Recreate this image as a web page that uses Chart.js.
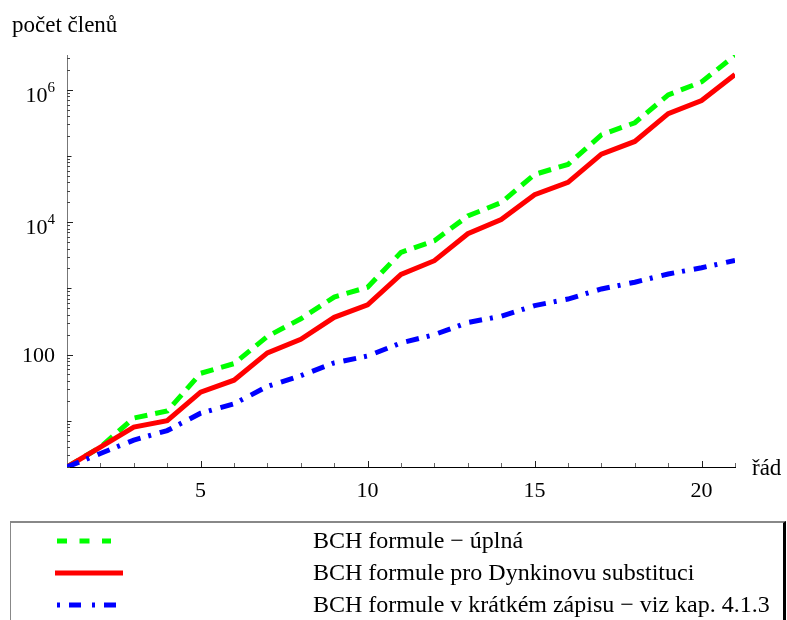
<!DOCTYPE html>
<html>
<head>
<meta charset="utf-8">
<script src="https://cdn.jsdelivr.net/npm/chart.js@4.4.1/dist/chart.umd.min.js"></script>
<style>
    body { margin: 0; background: #fff; }
    #wrap { position: relative; width: 787px; height: 620px; overflow: hidden; font-family: "Liberation Serif", "Times New Roman", serif; color: #000; }
    #chart { position: absolute; left: 0; top: 0; }
    .lbl { position: absolute; font-size: 23px; line-height: 23px; white-space: nowrap; }
    #legend { position: absolute; left: 10px; top: 521px; width: 772px; height: 120px; border-top: 2px solid #888; border-left: 1px solid #888; border-right: 3px solid #000; }
    .row { position: absolute; left: 0; height: 24px; width: 760px; }
    .row svg { position: absolute; left: 44px; top: 3px; }
    .row span { position: absolute; left: 302px; top: 0; font-size: 24px; line-height: 24px; white-space: nowrap; }
</style>
</head>
<body>
<div id="wrap">
    <canvas id="chart" width="787" height="620"></canvas>
    <div class="lbl" style="left:12px; top:13px;">počet členů</div>
    <div class="lbl" style="left:752px; top:456px;">řád</div>
    <div id="legend"></div>
</div>
<script>
// x axis: order of the formula
const orders = [1, 2, 3, 4, 5, 6, 7, 8, 9, 10, 11, 12, 13, 14, 15, 16, 17, 18, 19, 20, 21];

// y values
const fullTerms = [2, 4, 11, 14, 52, 73, 188, 347, 740, 1040, 3500, 5250, 12400, 19800, 52700, 74600, 209000, 318000, 838000, 1320000, 3300000];
const dynkinTerms = [2, 4, 8, 10, 27, 41, 106, 170, 365, 565, 1620, 2620, 6700, 11000, 26000, 40000, 107000, 166000, 436000, 690000, 1700000];
const shortTerms = [2, 3.2, 5.1, 7.1, 13, 18, 33, 48, 75, 95, 150, 200, 305, 380, 550, 690, 980, 1240, 1650, 2050, 2640];

const seriesNames = [
    'BCH formule − úplná',
    'BCH formule pro Dynkinovu substituci',
    'BCH formule v krátkém zápisu − viz kap. 4.1.3'
];

const xTickValues = [5, 10, 15, 20];
const yTickValues = [100, 10000, 1000000];
const yTickBase = ['100', '10', '10'];
const yTickExp = ['', '4', '6'];

const seriesStyles = [
    { color: '#00ff00', dash: [13, 8], legendDash: [10, 12.5], legendX: [2, 56], order: 3 },
    { color: '#ff0000', dash: [], legendDash: [], legendX: [0, 68], order: 2 },
    { color: '#0000ff', dash: [13, 8, 3, 9], legendDash: [3, 9, 12, 11], legendX: [2, 62], order: 1 }
];

const seriesValues = [fullTerms, dynkinTerms, shortTerms];

//..small inward ticks like the original plot
const innerTicks = {
    id: 'innerTicks',
    beforeDatasetsDraw(chart) {
        const { ctx, chartArea, scales } = chart;
        ctx.save();
        ctx.lineWidth = 1;
        orders.forEach(n => {
            const px = Math.round(scales.x.getPixelForValue(n)) + 0.5;
            const major = xTickValues.includes(n);
            ctx.strokeStyle = major ? '#222' : '#666';
            ctx.beginPath();
            ctx.moveTo(px, chartArea.bottom);
            ctx.lineTo(px, chartArea.bottom - (major ? 6 : 4));
            ctx.stroke();
        });
        for (let e = 0; e <= 7; e++) {
            for (let m = 1; m <= 9; m++) {
                const v = m * Math.pow(10, e);
                if (v < scales.y.min || v > scales.y.max) continue;
                const py = Math.round(scales.y.getPixelForValue(v)) + 0.5;
                let len = 3;
                if (m === 1) len = yTickValues.includes(v) ? 6 : 4.5;
                ctx.strokeStyle = m === 1 ? '#222' : '#444';
                ctx.beginPath();
                ctx.moveTo(chartArea.left, py);
                ctx.lineTo(chartArea.left + len, py);
                ctx.stroke();
            }
        }
        ctx.restore();
    },
    //..y labels with a real raised exponent
    afterDraw(chart) {
        const { ctx, chartArea, scales } = chart;
        const right = chartArea.left - 12;
        ctx.save();
        ctx.fillStyle = '#000';
        ctx.textAlign = 'right';
        ctx.textBaseline = 'alphabetic';
        yTickValues.forEach((v, i) => {
            const py = scales.y.getPixelForValue(v);
            if (yTickExp[i]) {
                ctx.font = '15px "Liberation Serif"';
                ctx.fillText(yTickExp[i], right, py + 2);
                const w = ctx.measureText(yTickExp[i]).width;
                ctx.font = '22px "Liberation Serif"';
                ctx.fillText(yTickBase[i], right - w, py + 12);
            } else {
                ctx.font = '22px "Liberation Serif"';
                ctx.fillText(yTickBase[i], right, py + 7.5);
            }
        });
        ctx.restore();
    }
};

const tickFont = { family: 'Liberation Serif', size: 22 };

new Chart(document.getElementById('chart'), {
    type: 'line',
    data: {
        datasets: seriesValues.map((vals, i) => ({
            label: seriesNames[i],
            data: vals.map((v, j) => ({ x: orders[j], y: v })),
            borderColor: seriesStyles[i].color,
            borderWidth: 5,
            borderDash: seriesStyles[i].dash,
            borderCapStyle: 'butt',
            borderJoinStyle: 'miter',
            pointRadius: 0,
            fill: false,
            tension: 0,
            order: seriesStyles[i].order
        }))
    },
    options: {
        responsive: false,
        animation: false,
        events: [],
        layout: { padding: { top: 55, right: 52, bottom: 120, left: 0 } },
        plugins: { legend: { display: false }, tooltip: { enabled: false } },
        scales: {
            x: {
                type: 'linear',
                min: 1,
                max: 21,
                afterBuildTicks: s => { s.ticks = xTickValues.map(v => ({ value: v })); },
                afterFit: s => { s.height = 33; },
                grid: { display: false, drawTicks: false },
                border: { display: true, color: '#000', width: 1 },
                ticks: { padding: 11, font: tickFont, color: '#000', autoSkip: false, maxRotation: 0 }
            },
            y: {
                type: 'logarithmic',
                min: 2,
                max: 3360000,
                afterBuildTicks: s => { s.ticks = yTickValues.map(v => ({ value: v })); },
                afterFit: s => { s.width = 67; },
                grid: { display: false, drawTicks: false },
                border: { display: true, color: '#777', width: 1 },
                ticks: { display: false }
            }
        }
    },
    plugins: [innerTicks]
});

//..legend box below the plot
const legendBox = document.getElementById('legend');
const rowTops = [5, 37, 69];
seriesNames.forEach((name, i) => {
    const st = seriesStyles[i];
    const row = document.createElement('div');
    row.className = 'row';
    row.style.top = rowTops[i] + 'px';
    row.innerHTML = `
        <svg width="70" height="20">
            <line x1="${st.legendX[0]}" y1="10" x2="${st.legendX[1]}" y2="10" stroke="${st.color}" stroke-width="5"
                  stroke-dasharray="${st.legendDash.join(' ') || 'none'}" />
        </svg>
        <span>${name}</span>
    `;
    legendBox.appendChild(row);
});
</script>
</body>
</html>
